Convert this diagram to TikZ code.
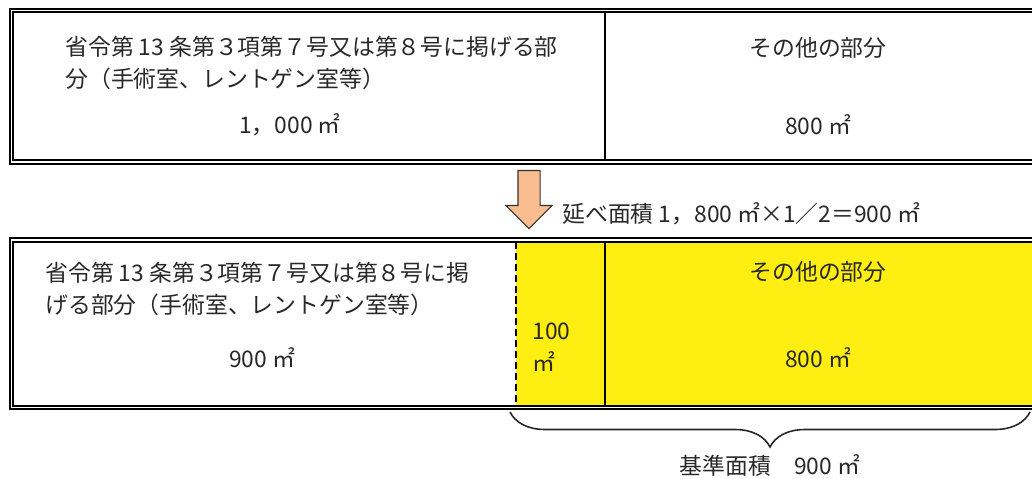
\documentclass[tikz,border=0pt]{standalone}
\usepackage{fontspec}
\setmainfont{Noto Sans CJK JP}
\usetikzlibrary{shapes.arrows, decorations.pathreplacing, positioning}

\definecolor{cellyellow}{RGB}{255,238,17}
\definecolor{arrowfill}{RGB}{249,189,143}
\definecolor{inkgray}{RGB}{40,40,40}

\begin{document}
\begin{tikzpicture}[
        x=0.02cm, y=-0.02cm,
        font=\fontsize{13}{18}\selectfont,
        frame/.style={draw=black, line width=1pt, double=white, double distance=1.1pt},
        divider/.style={draw=black, line width=1.1pt},
        cutline/.style={draw=black, line width=1.7pt, dash pattern=on 4pt off 2.2pt},
        label/.style={text=inkgray, inner sep=0pt},
        block/.style={label, align=left, anchor=west},
        bigarrow/.style={single arrow, draw=black!80, fill=arrowfill, shape border rotate=270,
            minimum height=1.16cm, minimum width=0.9cm, single arrow head extend=0.24cm,
            inner sep=0.21cm, line width=0.6pt},
        brace/.style={draw=black!85, line width=0.9pt, decorate, decoration={brace, amplitude=0.7cm}}
    ]
    \useasboundingbox (0,0) rectangle (1032,478);
    \clip (0,0) rectangle (1032,478);

    % Before
    \draw[frame] (11.5,10.5) rectangle (1045,162);
    \draw[divider] (605,13) -- (605,160);
    \node[block] (topMain) at (65,63) {省令第 13 条第３項第７号又は第８号に掲げる部\\分（手術室、レントゲン室等）};
    \node[label] (topMainArea) at (290,125) {1，000 ㎡};
    \node[label] (topOther) at (818,48) {その他の部分};
    \node[label] (topOtherArea) at (818,125) {800 ㎡};

    % Arrow
    \node[bigarrow] (arrow) at (529,194) {};
    \node[label, anchor=west] (ratio) at (562,214) {延べ面積 1，800 ㎡×1／2＝900 ㎡};

    % After
    \fill[cellyellow] (516,242) rectangle (1045,405);
    \draw[frame] (11.5,240) rectangle (1045,407.5);
    \draw[cutline] (516,242) -- (516,405);
    \draw[divider] (605,242) -- (605,405);
    \node[block] (botMain) at (45,289) {省令第 13 条第３項第７号又は第８号に掲\\げる部分（手術室、レントゲン室等）};
    \node[label] (botMainArea) at (262,358) {900 ㎡};
    \node[block] (botShift) at (532,347) {100\\㎡};
    \node[label] (botOther) at (818,272) {その他の部分};
    \node[label] (botOtherArea) at (818,358) {800 ㎡};

    % Brace
    \coordinate (braceL) at (510,412);
    \coordinate (braceR) at (1030,412);
    \draw[brace] (braceR) -- (braceL);
    \node[label] (base) at (770,465) {基準面積　900 ㎡};

\end{tikzpicture}
\end{document}
